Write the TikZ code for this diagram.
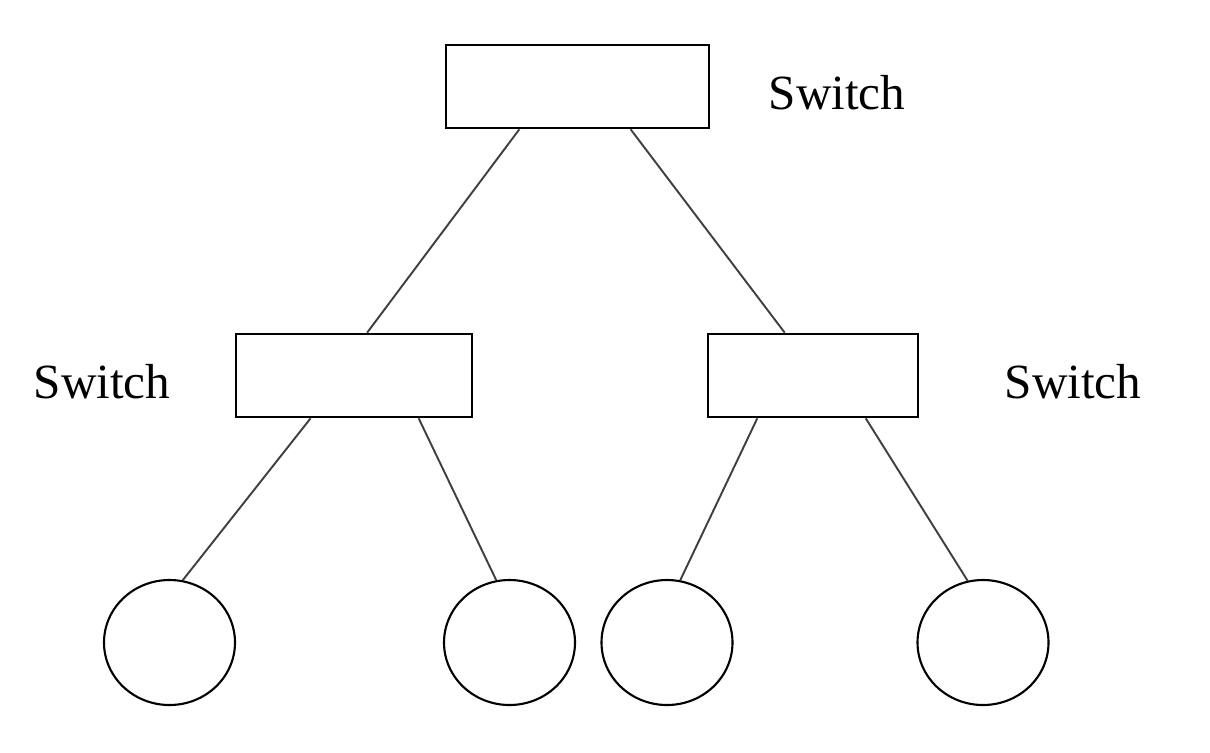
\documentclass[tikz,border=0pt]{standalone}
\usepackage{fontspec}
\setmainfont{Liberation Serif}
\usetikzlibrary{shapes.geometric,calc}
\begin{document}
\begin{tikzpicture}[x=0.02cm,y=-0.02cm,
  swbox/.style={draw,line width=1.5pt,rectangle,inner sep=0pt,minimum height=83*0.02cm},
  host/.style={draw,line width=1.2pt,ellipse,inner sep=0pt,minimum width=131*0.02cm,minimum height=125*0.02cm},
  lbl/.style={font=\fontsize{28}{32}\selectfont,inner sep=0pt},
  link/.style={draw,line width=1.1pt,color=black!75}]
\useasboundingbox (0,0) rectangle (1210,752);
\node[swbox,minimum width=263*0.02cm] (top) at (577.5,86.5) {};
\node[swbox,minimum width=236*0.02cm] (left) at (354,375.5) {};
\node[swbox,minimum width=210*0.02cm] (right) at (813,375.5) {};
\node[lbl] (ltop) at (837,93) {Switch};
\node[lbl] (lleft) at (102,382) {Switch};
\node[lbl] (lright) at (1073,382) {Switch};
\node[host] (h1) at (169.5,642.5) {};
\node[host] (h2) at (509.5,642.5) {};
\node[host] (h3) at (667,642.5) {};
\node[host] (h4) at (983,642.5) {};
\draw[link] ($(top.south west)!0.281!(top.south east)$) -- ($(left.north west)!0.555!(left.north east)$);
\draw[link] ($(top.south west)!0.70!(top.south east)$) -- ($(right.north west)!0.367!(right.north east)$);
\draw[link] ($(left.south west)!0.318!(left.south east)$) -- (h1.78);
\draw[link] ($(left.south west)!0.771!(left.south east)$) -- (h2.102.6);
\draw[link] ($(right.south west)!0.238!(right.south east)$) -- (h3.78);
\draw[link] ($(right.south west)!0.748!(right.south east)$) -- (h4.104);
\end{tikzpicture}
\end{document}
